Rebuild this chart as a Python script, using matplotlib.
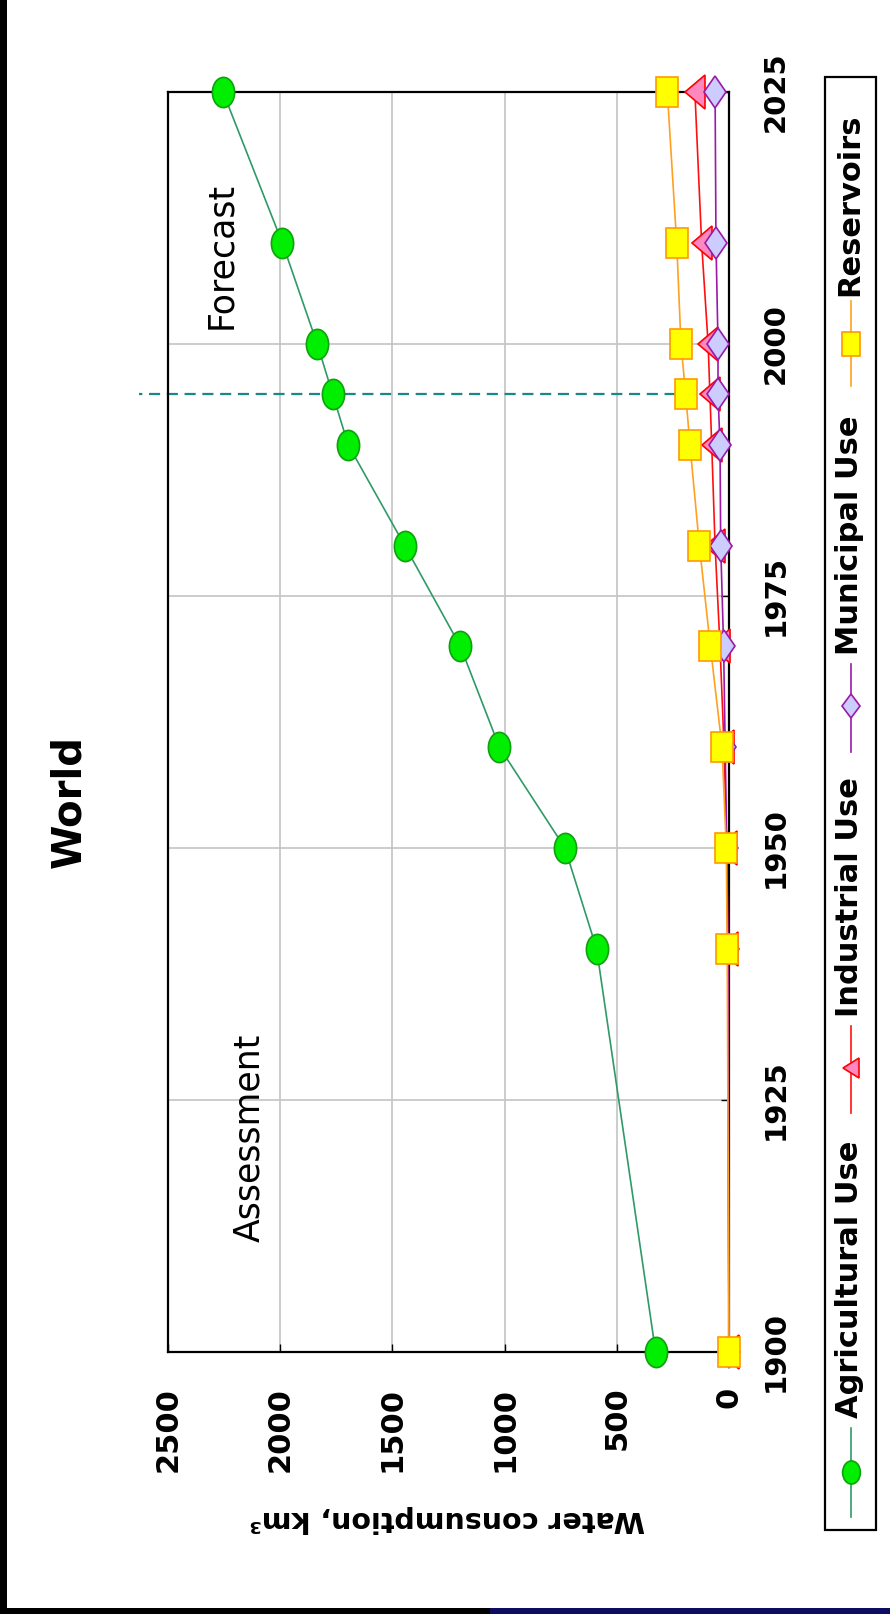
import matplotlib
matplotlib.use("Agg")
import matplotlib.pyplot as plt
from matplotlib import font_manager
from matplotlib.markers import MarkerStyle
from matplotlib.transforms import Affine2D
from matplotlib.patches import Rectangle
from matplotlib.lines import Line2D

# figure size in pixels (dpi 100)
W, H = 890, 1614

years = [1900, 1940, 1950, 1960, 1970, 1980, 1990, 1995, 2000, 2010, 2025]
agricultural = [327, 590, 731, 1023, 1197, 1445, 1697, 1766, 1835, 1990, 2255]
industrial = [0, 5, 10, 22, 40, 62, 77, 85, 93, 122, 152]
municipal = [0, 5, 10, 17, 24, 37, 40, 49, 49, 58, 62]
reservoirs = [0, 8, 12, 31, 83, 132, 174, 193, 214, 233, 275]

value_ticks = [0, 500, 1000, 1500, 2000, 2500]
year_ticks = [1900, 1925, 1950, 1975, 2000, 2025]
forecast_year = 1995

names = ["Agricultural Use", "Industrial Use", "Municipal Use", "Reservoirs"]
series = [agricultural, industrial, municipal, reservoirs]


def fx(x):
    return x / W


def fy(y):
    return 1 - y / H


def stretched(marker, sy):
    # markers in the picture are taller than wide
    return MarkerStyle(marker, transform=Affine2D().scale(1, sy))


styles = [
    dict(color="#2f9a68", marker="o", sy=1.36, ms=16, mfc="#00ee00", mec="#10a010"),
    dict(color="#ff1010", marker="<", sy=1.7, ms=14.5, mfc="#ff88c0", mec="#ff0000"),
    dict(color="#9a1aa8", marker="D", sy=1.43, ms=11.7, mfc="#ccccff", mec="#9a1aa8"),
    dict(color="#ffa020", marker="s", sy=1.36, ms=16, mfc="#ffff00", mec="#ff9900"),
]

fig = plt.figure(figsize=(W / 100, H / 100), dpi=100)
fig.patch.set_facecolor("white")

ax = fig.add_axes([fx(168), fy(1352), (729 - 168) / W, (1352 - 92) / H])
ax.set_xlim(2500, 0)
ax.set_ylim(1900, 2025)

for vals, st in zip(series, styles):
    ax.plot(vals, years, color=st["color"], lw=1.2, zorder=3, clip_on=False,
            marker=stretched(st["marker"], st["sy"]), ms=st["ms"],
            mfc=st["mfc"], mec=st["mec"], mew=1.2)

# forecast divider, reaching past the frame
dash_reach = 2630
ax.plot([0, dash_reach], [forecast_year, forecast_year], ls=(0, (5, 3)),
        color="#188888", lw=1.6, clip_on=False, zorder=2)

ax.set_xticks(value_ticks)
ax.set_yticks(year_ticks)
ax.grid(True, color="#c4c4c4", lw=1.2)
ax.set_axisbelow(True)
ax.yaxis.tick_right()
ax.tick_params(direction="in", length=6, width=1, color="black")
ax.tick_params(axis="x", labelrotation=90, pad=25, labelsize=22)
ax.tick_params(axis="y", labelrotation=90, pad=23.5, labelsize=21)
for lab in ax.get_xticklabels():
    lab.set_fontweight("bold")
    lab.set_va("top")
for lab in ax.get_yticklabels():
    lab.set_fontweight("bold")
    lab.set_va("center")
for side in ["left", "top", "bottom", "right"]:
    ax.spines[side].set_linewidth(1.6)

# titles and notes (everything is turned a quarter turn)
fig.text(fx(69), fy(802), "World", rotation=90, fontsize=29,
         fontweight="bold", ha="center", va="center")
fig.text(fx(249), fy(1138), "Assessment", rotation=90, fontsize=25,
         ha="center", va="center")
fig.text(fx(221), fy(255), "Forecast", rotation=90, fontsize=25,
         ha="center", va="center")

installed = {f.name for f in font_manager.fontManager.ttflist}
if "Liberation Sans Narrow" in installed:
    lab_font, lab_size = "Liberation Sans Narrow", 27
else:
    lab_font, lab_size = "DejaVu Sans", 20.5
fig.text(fx(447), fy(1519), "Water consumption, km³", rotation=180,
         fontsize=lab_size, family=lab_font, fontweight="bold",
         ha="center", va="center")

# hand-made legend, rotated like the rest
fig.add_artist(Rectangle((fx(825), fy(1530)), (876 - 825) / W, (1530 - 77) / H,
                         transform=fig.transFigure, fill=False,
                         ec="black", lw=1.6))
legend_slots = [(1517, 1428, 1472, 1418), (1113, 1026, 1068, 1017),
                (752, 664, 706, 655), (386, 301, 344, 296)]
lx = 851
for name, st, (y0, y1, ym, yt) in zip(names, styles, legend_slots):
    fig.add_artist(Line2D([fx(lx), fx(lx)], [fy(y0), fy(y1)],
                          transform=fig.transFigure, color=st["color"], lw=1.2))
    fig.add_artist(Line2D([fx(lx)], [fy(ym)], transform=fig.transFigure,
                          marker=stretched(st["marker"], 1.3), ms=st["ms"] * 0.8,
                          mfc=st["mfc"], mec=st["mec"], mew=1.2, ls="none"))
    fig.text(fx(850), fy(yt), name, rotation=90, fontsize=22,
             fontweight="bold", ha="center", va="bottom")

# dark edges of the slide
fig.add_artist(Rectangle((0, 0), fx(7), 1, transform=fig.transFigure,
                         color="black", lw=0))
fig.add_artist(Rectangle((0, 0), fx(490), 6 / H, transform=fig.transFigure,
                         color="black", lw=0))
fig.add_artist(Rectangle((fx(490), 0), 1 - fx(490), 6 / H,
                         transform=fig.transFigure, color="#0c0c60", lw=0))

fig.savefig("out.png", dpi=100)
